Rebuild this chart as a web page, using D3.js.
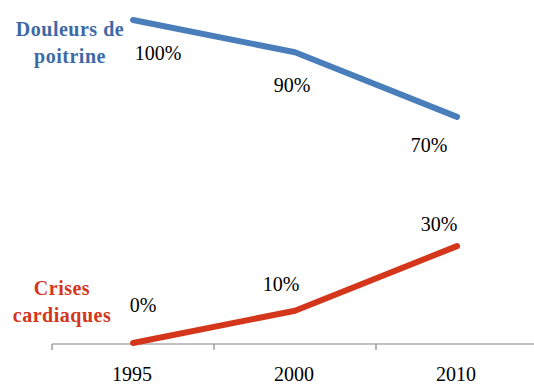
<!DOCTYPE html>
<html><head><meta charset="utf-8">
<script src="https://cdn.jsdelivr.net/npm/d3@7"></script>
<style>
html,body{margin:0;padding:0;background:#fff;}
svg{display:block;}
svg text{font-family:"Liberation Serif","Tinos","Times New Roman",Times,serif;}
</style></head>
<body>
<svg id="c" width="534" height="385"></svg>
<script>
const categories = ["1995", "2000", "2010"];
const douleurs = [100, 90, 70];
const crises = [0, 10, 30];
const seriesNames = [["Douleurs de", "poitrine"], ["Crises", "cardiaques"]];
const valueLabels = [["100%", "90%", "70%"], ["0%", "10%", "30%"]];

// layout (label offsets relative to points)
const labelOffsets = [
  [[25, 40], [-3, 40], [-28, 35]],
  [[10, -31], [-14, -20], [-18, -15]]
];
const colors = ["#4A7EBB", "#D4361B"];
const nameColors = ["#3D6AA6", "#D4361B"];

const svg = d3.select("#c");
const x = d3.scaleBand().domain(categories).range([52, 538]).padding(0);
const y = d3.scaleLinear().domain([0, 100]).range([343, 20]);
const cx = c => x(c) + x.bandwidth() / 2;

// axis
const axisY = 344;
const ax = svg.append("g").attr("transform", `translate(0,${axisY})`);
ax.append("line").attr("x1", 52).attr("x2", 534).attr("y1", 0).attr("y2", 0)
  .attr("stroke", "#868686").attr("stroke-width", 1.2);
const tickPos = categories.map(c => x(c)).concat([x(categories[categories.length - 1]) + x.bandwidth()]);
ax.selectAll("line.t").data(tickPos).enter().append("line").attr("class", "t")
  .attr("x1", d => d).attr("x2", d => d).attr("y1", 0).attr("y2", 6)
  .attr("stroke", "#868686").attr("stroke-width", 1.2);
ax.selectAll("text").data(categories).enter().append("text")
  .attr("x", d => cx(d) - 1).attr("y", 37).attr("text-anchor", "middle")
  .attr("font-size", 20).attr("fill", "#000").text(d => d);

const data = [douleurs, crises];
const line = d3.line().x((d, i) => cx(categories[i])).y(d => y(d));
data.forEach((s, k) => {
  svg.append("path").attr("d", line(s)).attr("fill", "none")
    .attr("stroke", colors[k]).attr("stroke-width", 6)
    .attr("stroke-linecap", "round").attr("stroke-linejoin", "round");
  svg.selectAll("text.v" + k).data(s).enter().append("text").attr("class", "v" + k)
    .attr("x", (d, i) => cx(categories[i]) + labelOffsets[k][i][0])
    .attr("y", (d, i) => y(d) + labelOffsets[k][i][1])
    .attr("text-anchor", "middle").attr("font-size", 20).attr("fill", "#000")
    .text((d, i) => valueLabels[k][i]);
});

// series names
const namePos = [[70, 36], [62, 295]];
seriesNames.forEach((n, k) => {
  const t = svg.append("text").attr("text-anchor", "middle").attr("font-size", 20)
    .attr("font-weight", "bold").attr("fill", nameColors[k]).attr("letter-spacing", 0.5);
  n.forEach((ln, j) => t.append("tspan").attr("x", namePos[k][0]).attr("y", namePos[k][1] + j * 27).text(ln));
});
</script>
</body></html>
